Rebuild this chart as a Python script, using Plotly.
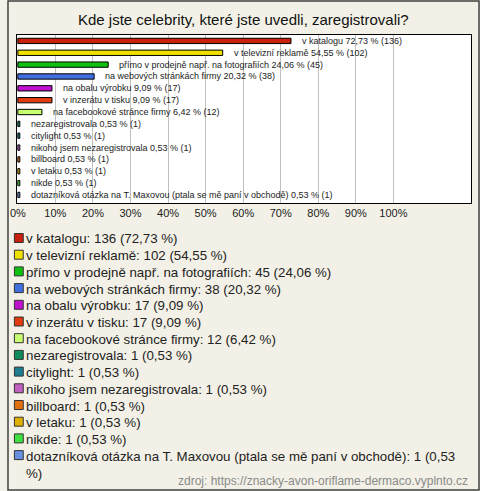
import plotly.graph_objects as go

title = "Kde jste celebrity, které jste uvedli, zaregistrovali?"
labels = ["v katalogu", "v televizní reklamě", "přímo v prodejně např. na fotografiích",
          "na webových stránkách firmy", "na obalu výrobku", "v inzerátu v tisku",
          "na facebookové stránce firmy", "nezaregistrovala", "citylight",
          "nikoho jsem nezaregistrovala", "billboard", "v letaku", "nikde",
          "dotazníková otázka na T. Maxovou (ptala se mě paní v obchodě)"]
counts = [136, 102, 45, 38, 17, 17, 12, 1, 1, 1, 1, 1, 1, 1]
pcts = [72.73, 54.55, 24.06, 20.32, 9.09, 9.09, 6.42, 0.53, 0.53, 0.53, 0.53, 0.53, 0.53, 0.53]
colors = ["#c8200c", "#f0e000", "#10c010", "#4070e0", "#c010d0", "#e03c10", "#c8ff70",
          "#108c5c", "#1c7c90", "#c060c0", "#e07010", "#e0b000", "#40e040", "#6890e0"]
tick_vals = [0, 10, 20, 30, 40, 50, 60, 70, 80, 90, 100]
tick_text = [f"{v}%" for v in tick_vals]
source = "zdroj: https://znacky-avon-oriflame-dermaco.vyplnto.cz"

W, H = 480, 491
def fmt(p):
    return f"{p:.2f}".replace(".", ",")

fig = go.Figure()
fig.add_trace(go.Bar(
    x=pcts, y=labels, orientation="h", width=0.45,
    marker=dict(color=colors, line=dict(color="#000000", width=1)),
    hoverinfo="skip", showlegend=False,
))

annotations = []
for lab, c, p in zip(labels, counts, pcts):
    annotations.append(dict(
        x=p, y=lab, xref="x", yref="y", xanchor="left", yanchor="middle", xshift=9,
        text=f"{lab} {fmt(p)} % ({c})", showarrow=False,
        font=dict(family="Liberation Sans, Arial", size=9, color="#222222"),
    ))

# legend block
y0 = 238
step = 16.7
for i, (lab, c, p, col) in enumerate(zip(labels, counts, pcts, colors)):
    txt = f"{lab}: {c} ({fmt(p)} %)"
    if len(txt) > 64:
        txt = f"{lab}: {c} ({fmt(p)}<br>%)"
    yc = y0 + i * step
    annotations.append(dict(
        x=17 / W, y=1 - (yc - 8.5) / H, xref="paper", yref="paper",
        xanchor="left", yanchor="top", align="left", text=txt, showarrow=False,
        font=dict(family="Liberation Sans, Arial", size=13.3, color="#222222"),
    ))

annotations.append(dict(
    x=240 / W, y=1 - 20 / H, xref="paper", yref="paper", xanchor="center", yanchor="middle",
    text=title, showarrow=False, font=dict(family="Liberation Sans, Arial", size=15, color="#111111"),
))
annotations.append(dict(
    x=470 / W, y=1 - 481 / H, xref="paper", yref="paper", xanchor="right", yanchor="middle",
    text=source, showarrow=False, font=dict(family="Liberation Sans, Arial", size=12, color="#8a8a8a"),
))

shapes = [dict(type="rect", xref="paper", yref="paper", x0=1 / W, x1=1 - 1 / W,
               y0=1 / H, y1=1 - 1 / H, line=dict(color="#404040", width=1.5))]
for i, col in enumerate(colors):
    yc = y0 + i * step
    shapes.append(dict(type="rect", xref="paper", yref="paper",
                       x0=7.5 / W, x1=16.5 / W, y0=1 - (yc + 4.5) / H, y1=1 - (yc - 4.5) / H,
                       fillcolor=col, line=dict(color="#333333", width=1)))

fig.update_layout(
    width=W, height=H, margin=dict(l=0, r=0, t=0, b=0),
    paper_bgcolor="#f3f1e7", plot_bgcolor="#ffffff",
    annotations=annotations, shapes=shapes, bargap=0.5,
    xaxis=dict(domain=[10 / W, 471 / W], range=[-0.26, 120.7], tickvals=tick_vals, ticktext=tick_text,
               showgrid=True, gridcolor="#c0c0c0", gridwidth=1, zeroline=False,
               showline=True, linecolor="#000000", mirror=True, ticks="",
               tickfont=dict(family="Liberation Sans, Arial", size=11, color="#222222")),
    yaxis=dict(domain=[1 - 203 / H, 1 - 35 / H], range=[13.68, -0.5], categoryorder="array",
               categoryarray=labels, showticklabels=False, showgrid=False, zeroline=False,
               showline=True, linecolor="#000000", mirror=True, ticks=""),
)

fig.write_html("out.html", config={"displayModeBar": False, "staticPlot": True},
               post_script="document.body.style.margin='0';document.body.style.overflow='hidden';")
